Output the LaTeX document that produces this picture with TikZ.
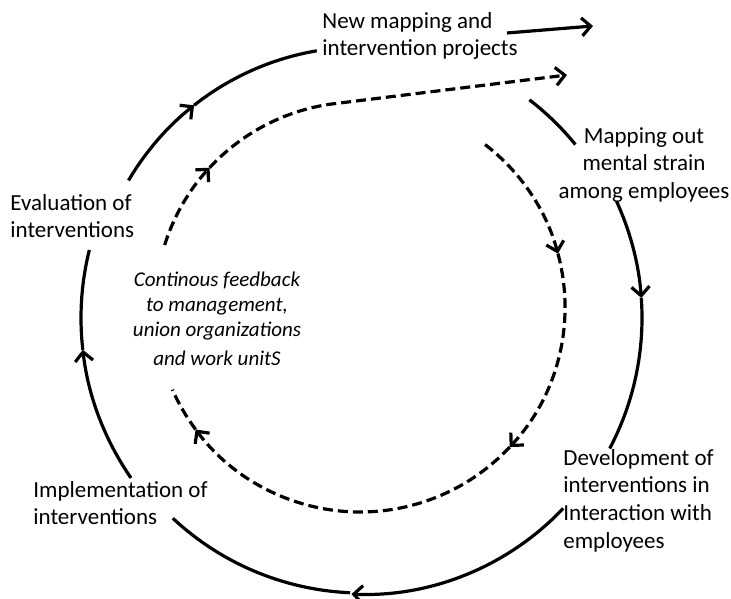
\documentclass[tikz,border=0pt]{standalone}
\usepackage{fontspec}
\setmainfont{Carlito}
\usetikzlibrary{arrows.meta}

\begin{document}
\begin{tikzpicture}[x=0.5pt,y=0.5pt,>={Straight Barb[length=4.5pt,width=9pt]},
	loop/.style={line width=1.6pt},
	fb/.style={line width=1.6pt,dash pattern=on 5pt off 2.5pt},
	lbl/.style={inner sep=0pt,font=\fontsize{11.5}{13.8}\selectfont}]
	\useasboundingbox (0,0) rectangle (731,598);
	% centres of the outer and inner cycle
	\coordinate (c) at (362,280);
	\coordinate (ci) at (360,291);

	\node[lbl,anchor=north west,align=left] (newproj) at (322,586) {New mapping and\\intervention projects};
	\node[lbl,anchor=north,align=center] (mapping) at (644,471) {Mapping out\\mental strain\\among employees};
	\node[lbl,anchor=north west,align=left] (devel) at (563,149) {Development of\\interventions in\\Interaction with\\employees};
	\node[lbl,anchor=north west,align=left] (impl) at (33,117) {Implementation of\\interventions};
	\node[lbl,anchor=north west,align=left] (eval) at (10,404) {Evaluation of\\interventions};
	\node[inner sep=0pt,anchor=north,align=center,font=\fontsize{10.5}{12.5}\selectfont\itshape] (feedback) at (217,326)
		{Continous feedback\\to management,\\union organizations\\[2pt]and work unitS};

	% outer cycle
	\draw[loop,->] ([shift={(214.7:281)}]c) arc[start angle=214.7,end angle=186.5,radius=281];
	\draw[loop] ([shift={(186.5:281)}]c) arc[start angle=186.5,end angle=166,radius=281];
	\draw[loop,->] ([shift={(149.5:271)}]c) arc[start angle=149.5,end angle=128.3,radius=271];
	\draw[loop] ([shift={(128.3:271)}]c) arc[start angle=128.3,end angle=99.6,radius=271];
	\draw[loop,->] (507,565) -- (593,572);
	\draw[loop] ([shift={(52.5:275)}]c) arc[start angle=52.5,end angle=39.1,radius=275];
	\draw[loop,->] ([shift={(24.6:280)}]c) arc[start angle=24.6,end angle=4.1,radius=280];
	\draw[loop] ([shift={(4.1:280)}]c) arc[start angle=4.1,end angle=-27.8,radius=280];
	\draw[loop,->] ([shift={(-43.4:277)}]c) arc[start angle=-43.4,end angle=-92.5,radius=275];
	\draw[loop] ([shift={(-92.5:275)}]c) arc[start angle=-92.5,end angle=-133.1,radius=277];

	% feedback cycle
	\draw[fb,->] ([shift={(52.4:205)}]ci) arc[start angle=52.4,end angle=15.1,radius=205];
	\draw[fb,->] ([shift={(15.1:205)}]ci) arc[start angle=15.1,end angle=-43.1,radius=205];
	\draw[fb,->] ([shift={(-43.1:205)}]ci) arc[start angle=-43.1,end angle=-143.3,radius=205];
	\draw[fb] ([shift={(-143.3:205)}]ci) arc[start angle=-143.3,end angle=-156.2,radius=205];
	\draw[fb,->] ([shift={(162.4:205)}]ci) arc[start angle=162.4,end angle=137.2,radius=205];
	\draw[fb,->] ([shift={(137.2:205)}]ci) arc[start angle=137.2,end angle=98.5,radius=205] -- (567,523);
\end{tikzpicture}
\end{document}
